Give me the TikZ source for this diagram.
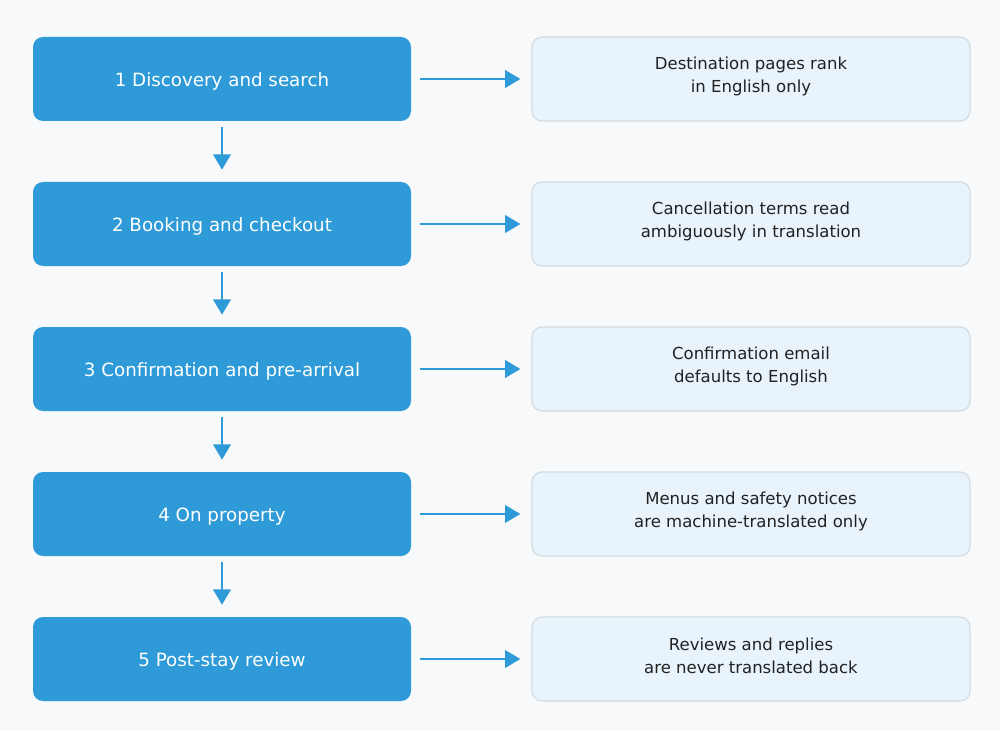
\documentclass[tikz,border=0pt]{standalone}
\usepackage{fontspec}
\setmainfont{DejaVu Sans}
\usetikzlibrary{arrows.meta}
\definecolor{bg}{HTML}{F7F9FA}
\definecolor{stepblue}{HTML}{2E9BD8}
\definecolor{notefill}{HTML}{E8F3FB}
\definecolor{notedraw}{HTML}{D3DCE2}
\definecolor{notetext}{HTML}{222222}
\tikzset{
  stepbox/.style={fill=stepblue, draw=none, rounded corners=7.5pt, minimum width=283.5pt, minimum height=63pt, inner sep=0pt, text=white, text height=11pt, text depth=0pt, font=\fontsize{13.7}{16}\selectfont},
  notebox/.style={fill=notefill, draw=notedraw, line width=0.9pt, rounded corners=7.5pt, minimum width=328.5pt, minimum height=63pt, inner sep=0pt},
  notetxt/.style={align=center, text=notetext, inner sep=0pt, font=\fontsize{12.4}{17.25}\selectfont},
  flow/.style={draw=stepblue, line width=2pt, -{Triangle[length=11.5pt,width=13pt]}},
}
\begin{document}
\begin{tikzpicture}[x=0.75pt,y=-0.75pt]
\fill[bg] (0,0) rectangle (1000,731);
\useasboundingbox (0,0) rectangle (1000,731);
\foreach \i/\y/\t/\n in {1/79/{1 Discovery and search}/{Destination pages rank\\in English only},
    2/224/{2 Booking and checkout}/{Cancellation terms read\\ambiguously in translation},
    3/369/{3 Confirmation and pre-arrival}/{Confirmation email\\defaults to English},
    4/514/{4 On property}/{Menus and safety notices\\are machine-translated only},
    5/659/{5 Post-stay review}/{Reviews and replies\\are never translated back}} {
  \node[stepbox] (s\i) at (222,\y) {\t};
  \node[notebox] (n\i) at (751,\y) {};
  \node[notetxt] (t\i) at (751,\y-3) {\n};
}
\foreach \i in {1,...,5} {
  \draw[flow, shorten <=6.75pt, shorten >=8.25pt] (s\i.east) -- (n\i.west);
}
\foreach \i/\j in {1/2,2/3,3/4,4/5} {
  \draw[flow, shorten <=4.5pt, shorten >=9pt] (s\i.south) -- (s\j.north);
}
\end{tikzpicture}
\end{document}
